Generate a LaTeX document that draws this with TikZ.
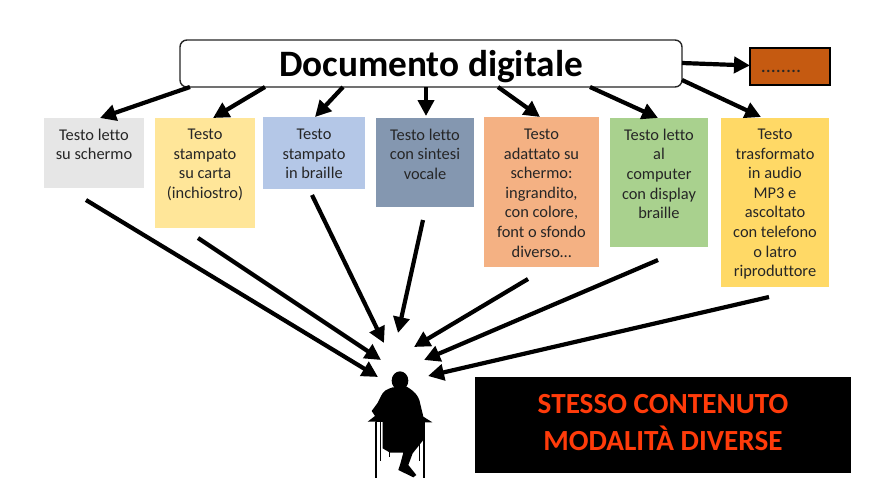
\documentclass[tikz,border=0pt]{standalone}
\usepackage{fontspec}
\setmainfont[Ligatures=CommonOff]{Carlito}
\usetikzlibrary{arrows.meta,calc}
\definecolor{c1}{HTML}{E6E6E6}
\definecolor{c2}{HTML}{FFE699}
\definecolor{c3}{HTML}{B4C7E7}
\definecolor{c4}{HTML}{8497B0}
\definecolor{c5}{HTML}{F4B183}
\definecolor{c6}{HTML}{A9D18E}
\definecolor{c7}{HTML}{FFD966}
\definecolor{orangebox}{HTML}{C55A11}
\definecolor{redtext}{HTML}{FF3B0A}
\definecolor{ink}{HTML}{262626}
\tikzset{
  fbox/.style={inner sep=0pt,outer sep=0pt,anchor=north west},
  txt/.style={inner sep=0pt,outer sep=0pt,anchor=north,align=center,text=ink,font=\fontsize{16.4}{19.6}\selectfont},
  arr/.style={line width=4.2pt,-{Triangle[length=16pt,width=16pt]},black},
}
\newcommand{\tbox}[7]{%
  \node[fbox,fill=#6,minimum width=#3pt,minimum height=#4pt] (#5) at (#1,#2) {};
  \node[txt] (#5t) at (#1+#3/2,129) {#7};
}
\begin{document}
\begin{tikzpicture}[x=1pt,y=-1pt]
\path[use as bounding box,fill=white] (0,0) rectangle (877,493);
% boxes
\tbox{44}{118}{100}{70}{b1}{c1}{Testo letto\\su schermo}
\tbox{155}{118}{100}{110}{b2}{c2}{Testo\\stampato\\su carta\\(inchiostro)}
\tbox{263}{117}{102}{72}{b3}{c3}{Testo\\stampato\\in braille}
\tbox{376}{118}{98}{89}{b4}{c4}{Testo letto\\con sintesi\\vocale}
\tbox{484}{117}{115}{150}{b5}{c5}{Testo\\adattato su\\schermo:\\ingrandito,\\con colore,\\font o sfondo\\diverso…}
\tbox{610}{118}{98}{129}{b6}{c6}{Testo letto\\al\\computer\\con display\\braille}
\tbox{721}{118}{108}{169}{b7}{c7}{Testo\\trasformato\\in audio\\MP3 e\\ascoltato\\con telefono\\o latro\\riproduttore}
% main
\node[fbox,draw=ink,line width=1.4pt,fill=white,rounded corners=7pt,minimum width=502pt,minimum height=47pt] (doc) at (180,40) {};
\node[inner sep=0pt,font=\fontsize{37.3}{40}\selectfont\bfseries,text=black] (doct) at (431,66.5) {Documento digitale};
\node[fbox,draw=black,line width=1.2pt,fill=orangebox,minimum width=80pt,minimum height=37pt] (more) at (750,48) {};
\node[inner sep=0pt,font=\fontsize{20}{24}\selectfont,text=ink] (moret) at (781,71) {........};
\node[fbox,fill=black,minimum width=376pt,minimum height=96pt] (msg) at (475,377) {};
\node[inner sep=0pt,align=center,text=redtext,font=\fontsize{29.2}{37}\selectfont\bfseries] (msgt) at (663,423) {STESSO CONTENUTO\\MODALITÀ DIVERSE};
% person
\begin{scope}[shift={(340,340)},x=0.3333pt,y=-0.3333pt]
\fill[black] (180,122) ellipse (25 and 28);
\fill[black] (158,142) .. controls (140,148) and (130,152) .. (122,170) -- (112,190) -- (95,213) -- (105,228) -- (83,245) -- (277,247) -- (250,230) -- (238,180) .. controls (232,165) and (225,155) .. (200,140) -- cycle;
\fill[black] (128,240) -- (128,325) -- (150,338) -- (190,338) -- (180,375) -- (175,390) -- (220,412) -- (229,405) -- (205,375) -- (218,340) -- (250,300) -- (252,240) -- cycle;
\draw[black,line width=1.5pt] (108,245) -- (108,413);
\draw[black,line width=1.5pt] (252,245) -- (252,413);
\draw[black,line width=1pt] (122,245) -- (122,362);
\draw[black,line width=1pt] (238,300) -- (238,362);
\draw[black,line width=1pt] (149,335) -- (149,352);
\end{scope}
\coordinate (p1) at (378,377);
\coordinate (p2) at (381,360);
\coordinate (p3) at (384,343);
\coordinate (p4) at (398,333);
\coordinate (p5) at (414,347);
\coordinate (p6) at (424,360);
\coordinate (p7) at (428,376);
% top arrows
\draw[arr] ([xshift=10pt]doc.south west) -- ([xshift=56pt]b1.north west);
\draw[arr] ([xshift=85pt]doc.south west) -- ([xshift=58pt]b2.north west);
\draw[arr] ([xshift=163pt]doc.south west) -- ([xshift=52pt]b3.north west);
\draw[arr] ([xshift=246pt]doc.south west) -- ([xshift=50pt,yshift=2pt]b4.north west);
\draw[arr] ([xshift=318pt]doc.south west) -- ([xshift=56pt]b5.north west);
\draw[arr] ([xshift=410pt]doc.south west) -- ([xshift=48pt]b6.north west);
\draw[arr] ([yshift=7pt]doc.south east) -- ([xshift=40pt,yshift=1pt]b7.north west);
\draw[arr] ([yshift=-23pt]doc.north east) -- ([yshift=1pt]more.west);
% bottom arrows
\draw[arr] ([xshift=42pt,yshift=-12pt]b1.south west) -- (p1);
\draw[arr] ([xshift=43pt,yshift=-10pt]b2.south west) -- (p2);
\draw[arr] ([xshift=49pt,yshift=-6pt]b3.south west) -- (p3);
\draw[arr] ([xshift=47pt,yshift=-13pt]b4.south west) -- (p4);
\draw[arr] ([xshift=44pt,yshift=-12pt]b5.south west) -- (p5);
\draw[arr] ([xshift=48pt,yshift=-13pt]b6.south west) -- (p6);
\draw[arr] ([xshift=48pt,yshift=-10pt]b7.south west) -- (p7);
\end{tikzpicture}
\end{document}
